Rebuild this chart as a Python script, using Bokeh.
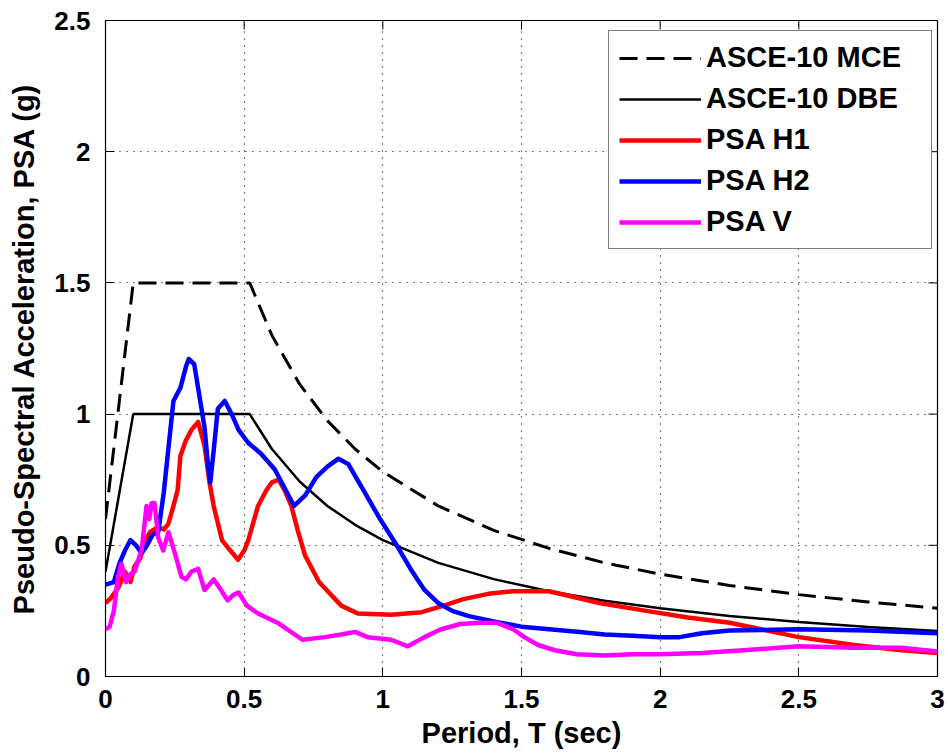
from bokeh.plotting import figure
from bokeh.models import Legend, LegendItem, FixedTicker, Range1d
from bokeh.embed import file_html
from bokeh.resources import INLINE

# ---------------- data ----------------
x_ticks = [0, 0.5, 1, 1.5, 2, 2.5, 3]
x_tick_labels = ["0", "0.5", "1", "1.5", "2", "2.5", "3"]
y_ticks = [0, 0.5, 1, 1.5, 2, 2.5]
y_tick_labels = ["0", "0.5", "1", "1.5", "2", "2.5"]

# ASCE-10 design spectra
design_T = [0.0, 0.1, 0.52, 0.6, 0.7, 0.8, 0.9, 1.0, 1.2, 1.4, 1.6, 1.8, 2.0, 2.25, 2.5, 2.75, 3.0]
mce_psa = [0.6, 1.5, 1.5, 1.30, 1.114, 0.975, 0.867, 0.78, 0.65, 0.557, 0.488, 0.433, 0.39, 0.347, 0.312, 0.284, 0.26]
dbe_psa = [0.4, 1.0, 1.0, 0.867, 0.743, 0.65, 0.578, 0.52, 0.433, 0.371, 0.325, 0.289, 0.26, 0.231, 0.208, 0.189, 0.173]

# PSA H1 (red)
h1_T = [0.0, 0.02, 0.047, 0.07, 0.09, 0.105, 0.125, 0.14, 0.16, 0.19, 0.21, 0.226, 0.245, 0.26, 0.27,
        0.29, 0.31, 0.334, 0.357, 0.375, 0.39, 0.42, 0.45, 0.478, 0.50, 0.515, 0.55, 0.58, 0.60, 0.625,
        0.65, 0.67, 0.695, 0.72, 0.77, 0.85, 0.91, 1.03, 1.14, 1.22, 1.29, 1.38, 1.47, 1.60, 1.70, 1.78,
        1.95, 2.10, 2.25, 2.50, 2.70, 2.87, 3.00]
h1_psa = [0.28, 0.30, 0.34, 0.40, 0.36, 0.42, 0.45, 0.51, 0.55, 0.57, 0.56, 0.58, 0.65, 0.71, 0.84,
          0.90, 0.94, 0.97, 0.88, 0.74, 0.65, 0.52, 0.48, 0.445, 0.48, 0.52, 0.65, 0.71, 0.74, 0.75,
          0.70, 0.65, 0.55, 0.46, 0.36, 0.27, 0.24, 0.235, 0.245, 0.27, 0.295, 0.315, 0.325, 0.325, 0.30, 0.28,
          0.25, 0.225, 0.205, 0.15, 0.12, 0.10, 0.09]

# PSA H2 (blue)
h2_T = [0.0, 0.03, 0.05, 0.07, 0.09, 0.11, 0.13, 0.15, 0.17, 0.19, 0.21, 0.23, 0.245, 0.27, 0.29, 0.30,
        0.32, 0.34, 0.357, 0.37, 0.378, 0.39, 0.405, 0.43, 0.455, 0.48, 0.515, 0.56, 0.61, 0.66, 0.68,
        0.72, 0.76, 0.80, 0.84, 0.875, 0.93, 0.99, 1.05, 1.10, 1.15, 1.20, 1.25, 1.31, 1.40, 1.50, 1.60,
        1.71, 1.80, 1.90, 2.00, 2.07, 2.15, 2.25, 2.50, 2.75, 3.00]
h2_psa = [0.35, 0.36, 0.43, 0.48, 0.52, 0.50, 0.47, 0.50, 0.54, 0.55, 0.70, 0.90, 1.05, 1.10, 1.18, 1.21,
          1.19, 1.06, 0.95, 0.80, 0.74, 0.86, 1.02, 1.05, 1.00, 0.94, 0.89, 0.85, 0.79, 0.69, 0.65,
          0.69, 0.76, 0.80, 0.83, 0.81, 0.71, 0.60, 0.50, 0.41, 0.33, 0.28, 0.25, 0.23, 0.21, 0.19, 0.18,
          0.17, 0.16, 0.155, 0.15, 0.15, 0.165, 0.175, 0.18, 0.175, 0.165]

# PSA V (magenta)
v_T = [0.0, 0.015, 0.03, 0.045, 0.057, 0.075, 0.09, 0.105, 0.12, 0.13, 0.148, 0.158, 0.166, 0.177, 0.19,
       0.208, 0.227, 0.25, 0.274, 0.29, 0.31, 0.334, 0.357, 0.39, 0.41, 0.44, 0.46, 0.48, 0.51, 0.55,
       0.62, 0.71, 0.79, 0.85, 0.90, 0.945, 1.03, 1.09, 1.15, 1.21, 1.28, 1.35, 1.41, 1.47, 1.51, 1.56,
       1.62, 1.70, 1.80, 1.90, 2.00, 2.15, 2.30, 2.50, 2.70, 2.87, 3.00]
v_psa = [0.18, 0.19, 0.25, 0.38, 0.43, 0.36, 0.39, 0.40, 0.45, 0.48, 0.65, 0.60, 0.66, 0.66, 0.53,
         0.48, 0.55, 0.47, 0.38, 0.37, 0.40, 0.41, 0.33, 0.37, 0.34, 0.29, 0.31, 0.32, 0.27, 0.24,
         0.205, 0.14, 0.15, 0.16, 0.17, 0.15, 0.14, 0.115, 0.15, 0.18, 0.20, 0.205, 0.205, 0.18, 0.15, 0.12,
         0.10, 0.085, 0.08, 0.085, 0.085, 0.09, 0.10, 0.115, 0.11, 0.11, 0.095]

series_labels = ["ASCE-10 MCE", "ASCE-10 DBE", "PSA H1", "PSA H2", "PSA V"]

# ---------------- figure ----------------
FONT = "Liberation Sans"
X_MIN, X_MAX, Y_MIN, Y_MAX = 0, 3, 0, 2.5
FRAME_W, FRAME_H = 832, 656
TICK_PX = 9

p = figure(frame_width=FRAME_W, frame_height=FRAME_H,
           x_range=Range1d(X_MIN, X_MAX), y_range=Range1d(Y_MIN, Y_MAX),
           output_backend="svg", toolbar_location=None,
           min_border_left=105, min_border_top=20, min_border_right=8, min_border_bottom=20,
           background_fill_color="white", border_fill_color="white")
p.outline_line_color = "black"
p.outline_line_width = 1.2

for ax, ticks, labels in ((p.xaxis[0], x_ticks, x_tick_labels), (p.yaxis[0], y_ticks, y_tick_labels)):
    ax.ticker = FixedTicker(ticks=ticks)
    ax.major_label_overrides = {t: l for t, l in zip(ticks, labels)}
    ax.major_label_text_font = FONT
    ax.major_label_text_font_style = "bold"
    ax.major_label_text_font_size = "26px"
    ax.major_label_text_color = "black"
    ax.axis_label_text_font = FONT
    ax.axis_label_text_font_style = "bold"
    ax.axis_label_text_font_size = "29px"
    ax.axis_label_text_color = "black"
    ax.major_tick_in = TICK_PX
    ax.major_tick_out = 0
    ax.minor_tick_in = 0
    ax.minor_tick_out = 0
    ax.axis_line_color = "black"
    ax.major_tick_line_color = "black"

p.xaxis.axis_label = "Period, T (sec)"
p.yaxis.axis_label = "Pseudo-Spectral Acceleration, PSA (g)"
p.xaxis.major_label_standoff = 13
p.xaxis.axis_label_standoff = 6
p.yaxis.major_label_standoff = 15
p.yaxis.axis_label_standoff = 11

# mirrored tick marks on top and right edges of the box
dy = TICK_PX * (Y_MAX - Y_MIN) / FRAME_H
dx = TICK_PX * (X_MAX - X_MIN) / FRAME_W
p.segment(x0=x_ticks, y0=[Y_MAX] * len(x_ticks), x1=x_ticks, y1=[Y_MAX - dy] * len(x_ticks),
          line_color="black", line_width=1)
p.segment(x0=[X_MAX] * len(y_ticks), y0=y_ticks, x1=[X_MAX - dx] * len(y_ticks), y1=y_ticks,
          line_color="black", line_width=1)

p.xgrid.ticker = FixedTicker(ticks=x_ticks)
p.ygrid.ticker = FixedTicker(ticks=y_ticks)
p.grid.grid_line_color = "black"
p.grid.grid_line_dash = "1 6"
p.grid.grid_line_width = 1.2

r_mce = p.line(design_T, mce_psa, line_color="black", line_width=3, line_dash="18 9")
r_dbe = p.line(design_T, dbe_psa, line_color="black", line_width=2.5)
r_h1 = p.line(h1_T, h1_psa, line_color="#ff0000", line_width=4.5, line_join="round")
r_h2 = p.line(h2_T, h2_psa, line_color="#0000ff", line_width=4.5, line_join="round")
r_v = p.line(v_T, v_psa, line_color="#ff00ff", line_width=4.5, line_join="round")

items = [LegendItem(label=lab, renderers=[r]) for lab, r in
         zip(series_labels, [r_mce, r_dbe, r_h1, r_h2, r_v])]
legend = Legend(items=items, location=(503, 427))
legend.label_text_font = FONT
legend.label_text_font_style = "bold"
legend.label_text_font_size = "29px"
legend.label_text_color = "black"
legend.glyph_width = 82
legend.glyph_height = 32
legend.label_height = 32
legend.label_width = 215
legend.label_standoff = 5
legend.padding = 10
legend.spacing = 8
legend.margin = 0
legend.border_line_color = "black"
legend.border_line_width = 1.5
legend.background_fill_color = "white"
legend.background_fill_alpha = 1
p.add_layout(legend)

open("out.html", "w").write(file_html(p, INLINE))
